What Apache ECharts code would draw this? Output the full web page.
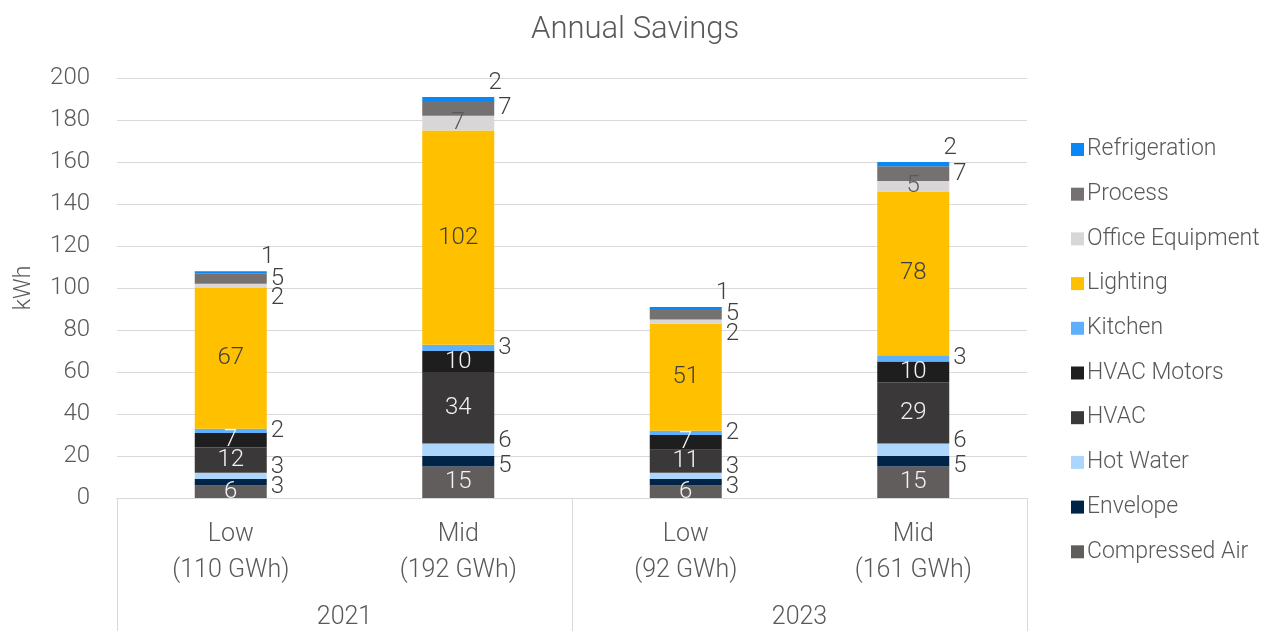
<!DOCTYPE html>
<html>
<head>
<meta charset="utf-8">
<script src="https://cdn.jsdelivr.net/npm/echarts@6/dist/echarts.min.js"></script>
<style>html,body{margin:0;padding:0;background:#fff}#c{width:1275px;height:631px}</style>
</head>
<body>
<div id="c"></div>
<script>
const categories = ['Low\n(110 GWh)', 'Mid\n(192 GWh)', 'Low\n(92 GWh)', 'Mid\n(161 GWh)'];
const years = ['2021', '2023'];
const yTicks = { min: 0, max: 200, interval: 20 };

const compressedAir   = [6, 15, 6, 15];
const envelope        = [3, 5, 3, 5];
const hotWater        = [3, 6, 3, 6];
const hvac            = [12, 34, 11, 29];
const hvacMotors      = [7, 10, 7, 10];
const kitchen         = [2, 3, 2, 3];
const lighting        = [67, 102, 51, 78];
const officeEquipment = [2, 7, 2, 5];
const processLoad     = [5, 7, 5, 7];
const refrigeration   = [1, 2, 1, 2];

const FONT = 'Roboto';
const TXT = '#595959';
const LBL = '#404040';
const LFS = 24;

const insideLabel = (color) => ({ show: true, position: 'inside', color: color, fontSize: LFS, fontFamily: FONT, fontWeight: 300 });
const rightLabel = (dy) => ({ show: true, position: 'right', distance: 4, offset: [0, dy], color: LBL, fontSize: LFS, fontFamily: FONT, fontWeight: 300 });
const topRightLabel = { show: true, position: 'top', distance: 2, offset: [37, 0], color: LBL, fontSize: LFS, fontFamily: FONT, fontWeight: 300 };

const seriesDefs = [
  { name: 'Compressed Air', data: compressedAir, color: '#625d5d', label: insideLabel('#f2f2f2') },
  { name: 'Envelope', data: envelope, color: '#002448', label: rightLabel(5) },
  { name: 'Hot Water', data: hotWater, color: '#acd6fc', label: rightLabel(-9) },
  { name: 'HVAC', data: hvac, color: '#3a3838', label: insideLabel('#f2f2f2') },
  { name: 'HVAC Motors', data: hvacMotors, color: '#1e1e1e', label: insideLabel('#f2f2f2') },
  { name: 'Kitchen', data: kitchen, color: '#5eb0fc', label: rightLabel(0) },
  { name: 'Lighting', data: lighting, color: '#ffc000', label: insideLabel(LBL) },
  { name: 'Office Equipment', data: officeEquipment, color: '#d8d6d6', label: null },
  { name: 'Process', data: processLoad, color: '#767171', label: rightLabel(0) },
  { name: 'Refrigeration', data: refrigeration, color: '#0a86f5', label: topRightLabel }
];

const series = seriesDefs.map(s => {
  let data = s.data;
  let label = s.label;
  if (!label) {
    data = s.data.map(v => ({ value: v, label: v >= 5 ? insideLabel(TXT) : rightLabel(12) }));
    label = { show: true };
  }
  return {
    name: s.name,
    type: 'bar',
    stack: 'total',
    barWidth: 72,
    xAxisIndex: 0,
    itemStyle: { color: s.color },
    label: label,
    data: data
  };
});

const chart = echarts.init(document.getElementById('c'), null, { renderer: 'canvas' });
chart.setOption({
  animation: false,
  backgroundColor: '#ffffff',
  title: {
    text: 'Annual Savings',
    left: 526,
    top: 10,
    textStyle: { color: TXT, fontSize: 31, fontWeight: 300, fontFamily: FONT }
  },
  legend: {
    orient: 'vertical',
    left: 1066,
    top: 131,
    icon: 'rect',
    itemWidth: 13,
    itemHeight: 13,
    itemGap: 17.7,
    textStyle: { color: TXT, fontSize: 23, fontFamily: FONT, fontWeight: 300, lineHeight: 27, padding: [0, 0, 0, -2] },
    data: seriesDefs.map(s => s.name).reverse()
  },
  grid: { left: 117, right: 248, top: 78, bottom: 133, containLabel: false },
  xAxis: [
    {
      type: 'category',
      data: categories,
      position: 'bottom',
      axisLine: { show: true, lineStyle: { color: '#d9d9d9', width: 1 } },
      axisTick: { show: false },
      axisLabel: { color: TXT, fontSize: 25, fontFamily: FONT, fontWeight: 300, lineHeight: 36, margin: 19, interval: 0 }
    },
    {
      type: 'category',
      data: years,
      position: 'bottom',
      axisLine: { show: true, lineStyle: { color: '#d9d9d9', width: 1 } },
      axisTick: { show: true, length: 135, interval: 0, alignWithLabel: false, lineStyle: { color: '#d9d9d9', width: 1 } },
      axisLabel: { color: TXT, fontSize: 25, fontFamily: FONT, fontWeight: 300, margin: 107, interval: 0 }
    }
  ],
  yAxis: {
    type: 'value',
    min: yTicks.min,
    max: yTicks.max,
    interval: yTicks.interval,
    name: 'kWh',
    nameLocation: 'middle',
    nameGap: 81,
    nameRotate: 90,
    nameTextStyle: { color: TXT, fontSize: 23, fontFamily: FONT, fontWeight: 300 },
    axisLine: { show: false },
    axisTick: { show: false },
    axisLabel: { color: TXT, fontSize: 24, fontFamily: FONT, fontWeight: 300, margin: 27 },
    splitLine: { show: true, lineStyle: { color: '#d9d9d9', width: 1 } }
  },
  series: series
});
</script>
</body>
</html>
